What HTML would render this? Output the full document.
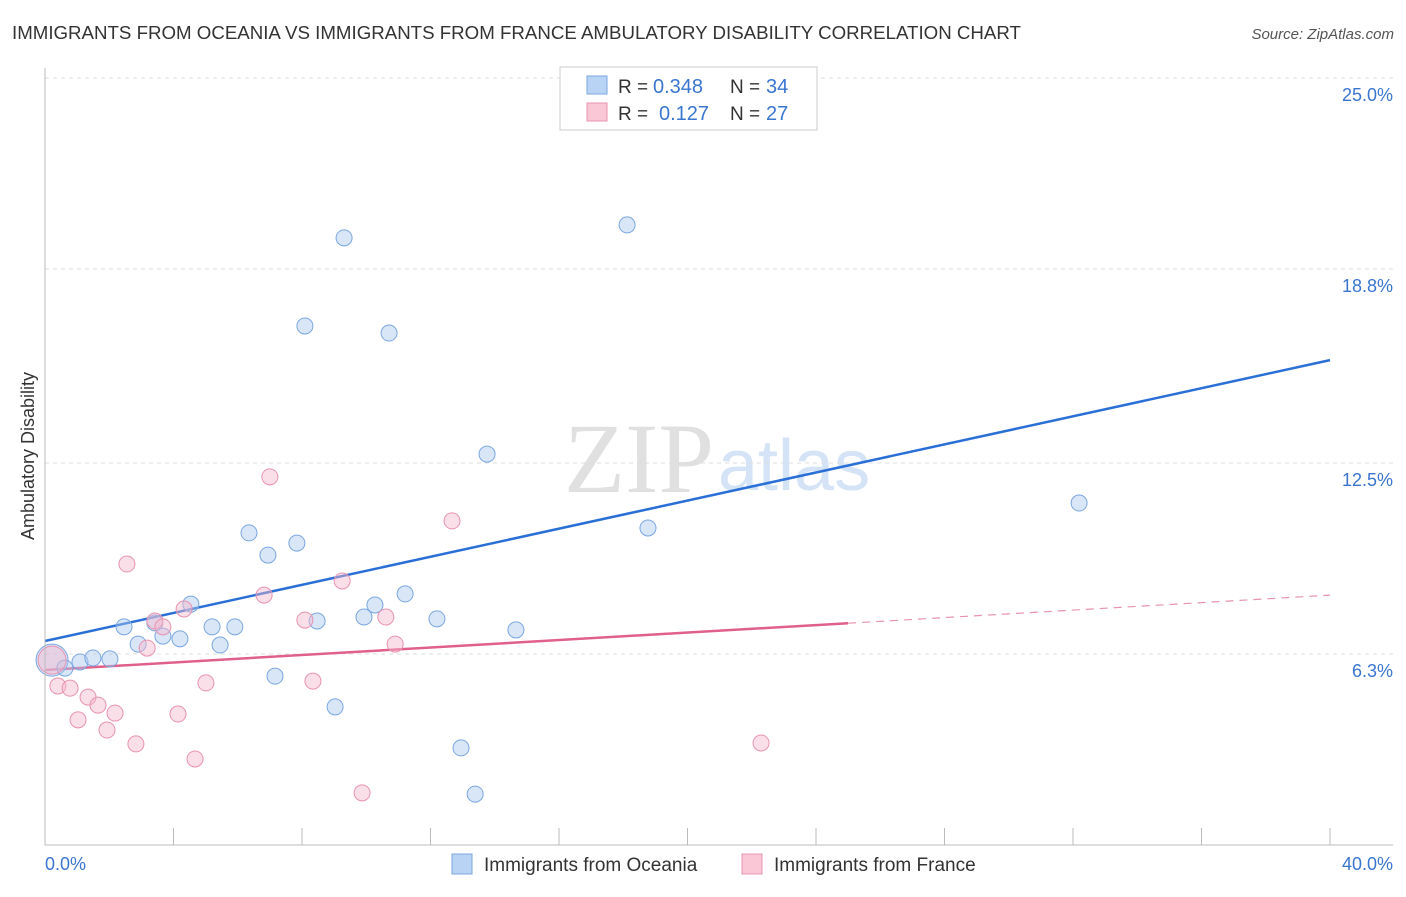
<!DOCTYPE html>
<html><head><meta charset="utf-8"><style>
body{margin:0;background:#fff;font-family:"Liberation Sans",sans-serif;}
</style></head><body>
<svg id="chart" width="1406" height="892" font-family="Liberation Sans, sans-serif">
<text x="12" y="39" font-size="18.7" fill="#333">IMMIGRANTS FROM OCEANIA VS IMMIGRANTS FROM FRANCE AMBULATORY DISABILITY CORRELATION CHART</text>
<text x="1394" y="39" font-size="15" fill="#555" font-style="italic" text-anchor="end">Source: ZipAtlas.com</text>
<text x="714" y="492" font-size="100" fill="#e0e0e0" text-anchor="end" style="font-family:'Liberation Serif',serif">ZIP</text>
<text x="718" y="490" font-size="72" fill="#d4e3f5">atlas</text>
<text transform="translate(34,456) rotate(-90)" font-size="18" fill="#333" text-anchor="middle">Ambulatory Disability</text>
<g id="grid"></g><g id="ticks"></g><g id="lines"></g><g id="pts"></g>
<line x1="45" y1="845" x2="1393" y2="845" stroke="#bbb"/>
<line x1="45" y1="68" x2="45" y2="845" stroke="#bbb"/>
<text x="45" y="870" font-size="18" fill="#3a76d0">0.0%</text>
<text x="1393" y="870" font-size="18" fill="#3a76d0" text-anchor="end">40.0%</text>
<g>
<rect x="560" y="67" width="257" height="63" fill="#fff" stroke="#ccc"/>
<rect x="587" y="76" width="20" height="18" fill="#b9d3f5" stroke="#7aa7e0"/>
<rect x="587" y="103" width="20" height="18" fill="#f9c7d6" stroke="#e893b0"/>
<text x="618" y="93" font-size="19" fill="#333">R =</text>
<text x="653" y="93" font-size="20" fill="#3a76d0">0.348</text>
<text x="730" y="93" font-size="19" fill="#333">N =</text>
<text x="766" y="93" font-size="20" fill="#3a76d0">34</text>
<text x="618" y="120" font-size="19" fill="#333">R =</text>
<text x="659" y="120" font-size="20" fill="#3a76d0">0.127</text>
<text x="730" y="120" font-size="19" fill="#333">N =</text>
<text x="766" y="120" font-size="20" fill="#3a76d0">27</text>
</g>
<g>
<rect x="452" y="854" width="20" height="20" fill="#b9d3f5" stroke="#7aa7e0"/>
<text x="484" y="871" font-size="19" fill="#333">Immigrants from Oceania</text>
<rect x="742" y="854" width="20" height="20" fill="#f9c7d6" stroke="#e893b0"/>
<text x="774" y="871" font-size="19" fill="#333">Immigrants from France</text>
</g>
</svg>
<script>
const yTicks=[6.3,12.5,18.8,25.0];
const yTickLabels=["6.3%","12.5%","18.8%","25.0%"];
const xTicks=[0,4,8,12,16,20,24,28,32,36,40];
const blueX=[0.22,0.62,1.09,1.49,2.02,2.46,2.90,3.42,3.67,4.20,4.54,5.20,5.45,5.91,6.35,6.94,7.16,7.84,8.09,8.47,9.03,9.31,9.93,10.27,10.71,11.21,12.20,12.95,13.39,13.76,14.66,18.12,18.77,32.19];
const blueY=[6.10,5.84,6.04,6.17,6.14,7.18,6.62,7.31,6.88,6.79,7.92,7.18,6.59,7.18,10.23,9.51,5.58,9.90,16.95,7.37,4.58,19.81,7.50,7.89,16.72,8.25,7.44,3.25,1.75,12.79,7.08,20.23,10.39,11.20];
const pinkX=[0.22,0.40,0.78,1.03,1.34,1.65,1.93,2.18,2.55,2.83,3.18,3.42,3.67,4.14,4.33,4.67,5.01,6.82,7.00,8.09,8.34,9.25,9.87,10.61,10.90,12.67,22.29];
const pinkY=[6.10,5.26,5.19,4.16,4.90,4.64,3.83,4.38,9.22,3.38,6.49,7.37,7.18,4.35,7.76,2.89,5.36,8.21,12.05,7.40,5.42,8.67,1.79,7.50,6.62,10.62,3.41];
const blueTrend=[6.72,15.84];
const pinkTrend=[5.78,8.21];
const pinkSolidEnd=25.0;
const X=v=>45+v/40*1285, Y=v=>848-v*30.8;
const NS="http://www.w3.org/2000/svg";
function mk(tag,attrs,parent){const e=document.createElementNS(NS,tag);for(const k in attrs)e.setAttribute(k,attrs[k]);document.getElementById(parent).appendChild(e);return e;}
yTicks.forEach((t,i)=>{
 const l=mk('line',{x1:45,x2:1393,y1:Y(t),y2:Y(t),stroke:'#ddd','stroke-dasharray':'4,4'},'grid');
 
 
 const tx=mk('text',{x:1393,y:Y(t)+23,'font-size':18,fill:'#3a76d0','text-anchor':'end'},'grid');
 tx.textContent=yTickLabels[i];
 
 
});
xTicks.forEach(t=>{
 const l=mk('line',{x1:X(t),x2:X(t),y1:828,y2:845,stroke:'#bbb'},'ticks');
 
 
});
let bl=mk('line',{x1:X(0),y1:Y(blueTrend[0]),x2:X(40),y2:Y(blueTrend[1]),stroke:'#2a6fd6','stroke-width':2.5},'lines');


const pAt=x=>pinkTrend[0]+(pinkTrend[1]-pinkTrend[0])*x/40;
let pl=mk('line',{x1:X(0),y1:Y(pAt(0)),x2:X(pinkSolidEnd),y2:Y(pAt(pinkSolidEnd)),stroke:'#e0608a','stroke-width':2.5},'lines');


let pd=mk('line',{x1:X(pinkSolidEnd),y1:Y(pAt(pinkSolidEnd)),x2:X(40),y2:Y(pAt(40)),stroke:'#e893b0','stroke-width':1.2,'stroke-dasharray':'8,6'},'lines');


blueX.forEach((x,i)=>{
 const c=mk('circle',{cx:X(x),cy:Y(blueY[i]),r:i==0?16:8,fill:'rgba(170,200,240,0.45)',stroke:'#7aa7e0','stroke-width':1},'pts');
 
 
});
pinkX.forEach((x,i)=>{
 const c=mk('circle',{cx:X(x),cy:Y(pinkY[i]),r:i==0?14:8,fill:'rgba(246,185,205,0.45)',stroke:'#e893b0','stroke-width':1},'pts');
 
 
});
</script>
</body></html>
